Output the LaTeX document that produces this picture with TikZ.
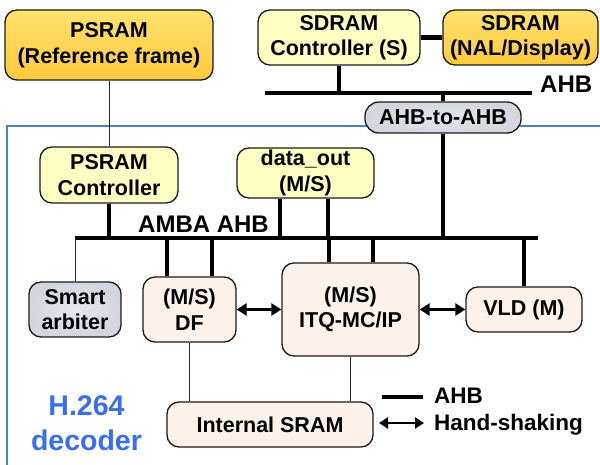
\documentclass[tikz,border=0pt]{standalone}
\usepackage{fontspec}
\setmainfont{Liberation Sans}
\usetikzlibrary{arrows.meta}
\definecolor{boxline}{HTML}{1A1A1A}
\definecolor{goldtop}{HTML}{FFE26E}
\definecolor{goldbot}{HTML}{FFC93C}
\definecolor{paleyellow}{HTML}{FFFFC4}
\definecolor{peach}{HTML}{FDF2EA}
\definecolor{greyin}{HTML}{E3E8F1}
\definecolor{greyout}{HTML}{D3D6DC}
\definecolor{frameblue}{HTML}{4F7FC4}
\definecolor{titleblue}{HTML}{3A6EF0}
\newcommand\boxfont{\fontsize{21.5}{25.5}\selectfont\bfseries}
\begin{document}
\begin{tikzpicture}[x=1pt,y=-1pt,
  blk/.style={draw=boxline, line width=1.3pt, rounded corners=12pt,
    align=center, inner sep=0pt, font=\boxfont},
  mem/.style={blk, top color=goldtop, bottom color=goldbot},
  ctl/.style={blk, fill=paleyellow},
  unit/.style={blk, fill=peach},
  gry/.style={blk, inner color=greyin, outer color=greyout},
  bus/.style={line width=4.5pt, draw=black},
  wire/.style={line width=1pt, draw=black!85},
  hs/.style={line width=3pt, {Triangle[length=10pt,width=12pt]}-{Triangle[length=10pt,width=12pt]}},
  legarrow/.style={line width=2.6pt, {Triangle[length=9pt,width=11pt]}-{Triangle[length=9pt,width=11pt]}},
  lbl/.style={inner sep=0pt, anchor=base west, font=\fontsize{24}{28}\selectfont\bfseries},
  leglbl/.style={inner sep=0pt, anchor=base west, font=\fontsize{22.5}{26}\selectfont\bfseries},
  ttl/.style={inner sep=0pt, anchor=base, text=titleblue, font=\fontsize{28.5}{34}\selectfont\bfseries}]
\useasboundingbox (0,0) rectangle (600,465);

% decoder frame (open to the right and bottom)
\draw[frameblue, line width=1.2pt] (600,126) -- (7,126) -- (7,465);

% bus coordinates
\coordinate (ahbW) at (265,93);
\coordinate (ahbE) at (532,93);
\coordinate (ambaW) at (75,238);
\coordinate (ambaE) at (538,238);

% external memories and controllers
\node[mem, minimum width=208pt, minimum height=70pt] (psref) at (109,45) {PSRAM\\(Reference frame)};
\node[ctl, minimum width=162pt, minimum height=55pt] (sdc) at (339,37.5) {SDRAM\\Controller (S)};
\node[mem, minimum width=155pt, minimum height=55pt] (sdn) at (520.5,37.5) {SDRAM\\(NAL/Display)};

% system AHB
\draw[bus] (ahbW) -- (ahbE);
\node[lbl] (ahblbl) at (540,93) {AHB};
\draw[bus] (sdc.south) -- (sdc.south |- ahbW);
\draw[bus] (sdc.east) -- (sdn.west);

% bridge
\node[gry, rounded corners=14pt, minimum width=156pt, minimum height=31pt] (bridge) at (443,117.5) {AHB-to-AHB};
\draw[bus] (bridge.north) -- (bridge.north |- ahbW);

% decoder internal nodes
\node[ctl, minimum width=138pt, minimum height=56pt] (psctl) at (109,175) {PSRAM\\Controller};
\node[ctl, minimum width=137pt, minimum height=50pt] (dout) at (305.5,173) {data\_out\\(M/S)};
\node[gry, minimum width=92pt, minimum height=55pt] (arb) at (75,309.5) {Smart\\arbiter};
\node[unit, minimum width=93pt, minimum height=65pt] (df) at (189.5,309.5) {(M/S)\\DF};
\node[unit, minimum width=137pt, minimum height=93pt] (itq) at (350.5,309.5) {(M/S)\\ITQ-MC/IP};
\node[unit, minimum width=116pt, minimum height=45pt] (vld) at (524,309.5) {VLD (M)};
\node[unit, minimum width=206pt, minimum height=45pt] (sram) at (270,424.5) {Internal SRAM};

% AMBA AHB bus
\draw[bus] (ambaW) -- (ambaE);
\node[lbl] (ambalbl) at (138,233) {AMBA AHB};
\draw[wire] (psref.south) -- (psctl.north);
\draw[bus] (psctl.south) -- (psctl.south |- ambaW);
\draw[bus] ([xshift=-25.5pt]dout.south) -- ([xshift=-25.5pt]dout.south |- ambaW);
\draw[bus] ([xshift=22.5pt]dout.south) -- ([xshift=22.5pt]dout.south |- ambaW);
\draw[bus] (bridge.south) -- (bridge.south |- ambaW);
\draw[wire] (arb.north) -- (arb.north |- ambaW);
\draw[bus] ([xshift=-22.5pt]df.north) -- ([xshift=-22.5pt]df.north |- ambaW);
\draw[bus] ([xshift=22.5pt]df.north) -- ([xshift=22.5pt]df.north |- ambaW);
\draw[bus] ([xshift=-21.5pt]itq.north) -- ([xshift=-21.5pt]itq.north |- ambaW);
\draw[bus] ([xshift=22.5pt]itq.north) -- ([xshift=22.5pt]itq.north |- ambaW);
\draw[bus] (vld.north) -- (vld.north |- ambaW);

% hand-shaking links
\draw[hs] (df.east) -- (itq.west);
\draw[hs] (itq.east) -- (vld.west);

% internal SRAM links
\draw[wire] (df.south) -- (df.south |- sram.north);
\draw[wire] (itq.south) -- (itq.south |- sram.north);

% legend
\coordinate (legA1) at (382,397);
\coordinate (legA2) at (423,397);
\coordinate (legH1) at (379,423);
\coordinate (legH2) at (424,423);
\draw[bus] (legA1) -- (legA2);
\node[leglbl] (legahb) at (434,403) {AHB};
\draw[legarrow] (legH1) -- (legH2);
\node[leglbl] (leghs) at (434,430) {Hand-shaking};

% decoder title
\node[ttl] (t1) at (86.5,415) {H.264};
\node[ttl] (t2) at (86.5,450) {decoder};
\end{tikzpicture}
\end{document}
